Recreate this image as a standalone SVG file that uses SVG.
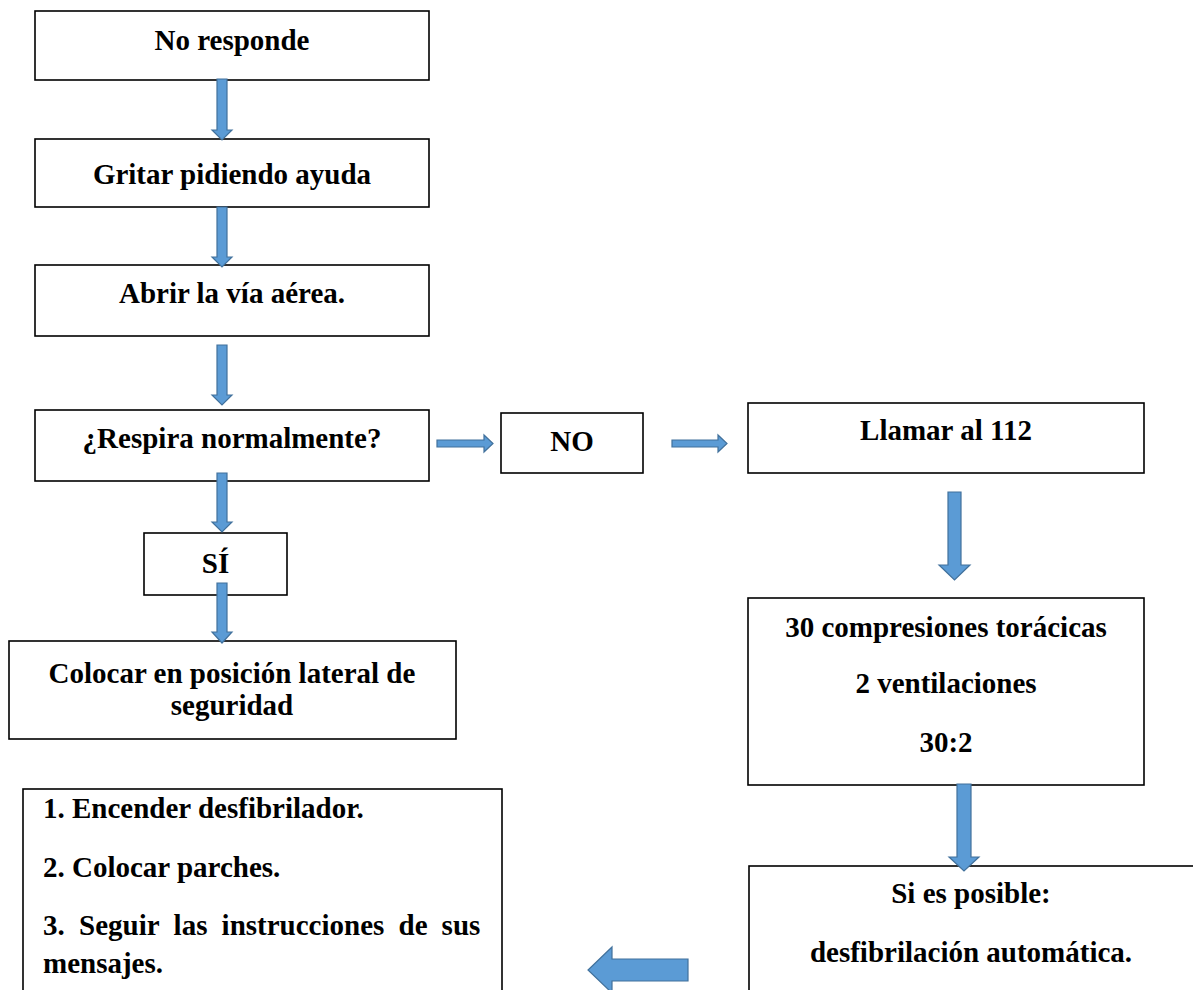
<svg xmlns="http://www.w3.org/2000/svg" width="1193" height="990" viewBox="0 0 1193 990">
<style>
.box{fill:#fff;stroke:#000;stroke-width:1.6}
.t{font-family:"Liberation Serif","Times New Roman",serif;font-weight:bold;font-size:29px;fill:#000}
.c{text-anchor:middle}
.arr{fill:#5B9BD5;stroke:#41719C;stroke-width:1.2;stroke-linejoin:miter}
</style>
<rect width="1193" height="990" fill="#fff"/>
<g id="n1"><rect class="box" x="35" y="11" width="394" height="69"/><text class="t c" x="232" y="50">No responde</text></g>
<g id="n2"><rect class="box" x="35" y="139" width="394" height="68"/><text class="t c" x="232" y="184">Gritar pidiendo ayuda</text></g>
<g id="n3"><rect class="box" x="35" y="265" width="394" height="71"/><text class="t c" x="232" y="303">Abrir la vía aérea.</text></g>
<g id="n4"><rect class="box" x="35" y="410" width="394" height="71"/><text class="t c" x="232" y="448">¿Respira normalmente?</text></g>
<g id="n5"><rect class="box" x="501" y="413" width="142" height="60"/><text class="t c" x="572" y="451">NO</text></g>
<g id="n6"><rect class="box" x="748" y="403" width="396" height="70"/><text class="t c" x="946" y="440">Llamar al 112</text></g>
<g id="n7"><rect class="box" x="144" y="533" width="143" height="62"/><text class="t c" x="215.5" y="573">SÍ</text></g>
<g id="n8"><rect class="box" x="9" y="641" width="447" height="98"/><text class="t c" x="232" y="683">Colocar en posición lateral de</text><text class="t c" x="232" y="715">seguridad</text></g>
<g id="n9"><rect class="box" x="748" y="598" width="396" height="187"/><text class="t c" x="946" y="637">30 compresiones torácicas</text><text class="t c" x="946" y="693">2 ventilaciones</text><text class="t c" x="946" y="752">30:2</text></g>
<g id="n10"><rect class="box" x="23" y="789" width="479" height="220"/>
<text class="t" x="43" y="818">1. Encender desfibrilador.</text>
<text class="t" x="43" y="877">2. Colocar parches.</text>
<text class="t" y="935"><tspan x="43">3.</tspan><tspan x="79">Seguir</tspan><tspan x="173.6">las</tspan><tspan x="221.6">instrucciones</tspan><tspan x="398.5">de</tspan><tspan x="441.6">sus</tspan></text>
<text class="t" x="43" y="973">mensajes.</text></g>
<g id="n11"><rect class="box" x="749" y="866" width="460" height="150"/><text class="t c" x="971" y="903">Si es posible:</text><text class="t c" x="971" y="962">desfibrilación automática.</text></g>
<g id="connectors">
<polygon class="arr" points="217,79 227,79 227,130 232,130 222,140 212,130 217,130"/>
<polygon class="arr" points="217,207 227,207 227,257 232,257 222,267 212,257 217,257"/>
<polygon class="arr" points="217,345 227,345 227,395 232,395 222,405 212,395 217,395"/>
<polygon class="arr" points="217,473 227,473 227,522 232,522 222,532 212,522 217,522"/>
<polygon class="arr" points="217,583 227,583 227,632 232,632 222,643 212,632 217,632"/>
<polygon class="arr" points="437,440 484,440 484,435 493,443.5 484,452 484,447 437,447"/>
<polygon class="arr" points="672,440 718,440 718,435 727,443.5 718,452 718,447 672,447"/>
<polygon class="arr" points="948,492 961,492 961,565 970,565 954.5,580 939,565 948,565"/>
<polygon class="arr" points="957,784 971,784 971,857 979,857 964,871 949,857 957,857"/>
<polygon class="arr" points="688,959 688,981 612,981 612,993 588,970 612,947 612,959"/>
</g>
</svg>
